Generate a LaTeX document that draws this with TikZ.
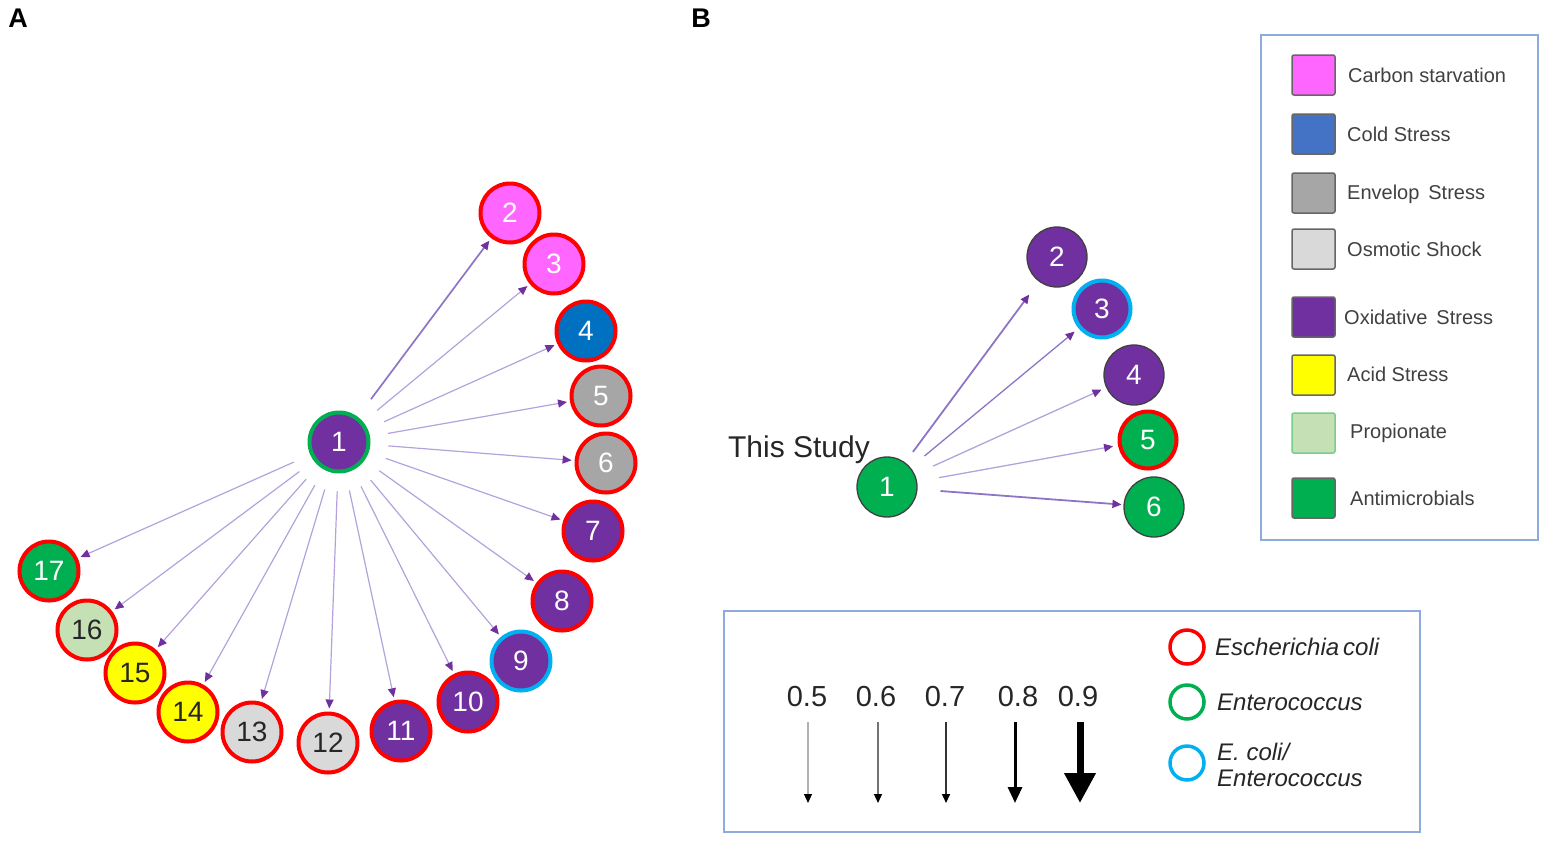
\documentclass[tikz,border=0pt]{standalone}
\usepackage{fontspec}
\setmainfont{Liberation Sans}
\usetikzlibrary{arrows.meta}
\definecolor{cpink}{HTML}{FF66FF}
\definecolor{cred}{HTML}{FF0000}
\definecolor{cblue}{HTML}{0070C0}
\definecolor{cblueL}{HTML}{4472C4}
\definecolor{cgray}{HTML}{A6A6A6}
\definecolor{clgray}{HTML}{D9D9D9}
\definecolor{cpurp}{HTML}{7030A0}
\definecolor{cyell}{HTML}{FFFF00}
\definecolor{clgreen}{HTML}{C5E0B4}
\definecolor{cgreen}{HTML}{00B050}
\definecolor{ccyan}{HTML}{00B0F0}
\definecolor{clav}{HTML}{B3A2DC}
\definecolor{clavD}{HTML}{8E74C6}
\definecolor{cdgray}{HTML}{404040}
\definecolor{cbox}{HTML}{8FAADC}
\definecolor{ctext}{HTML}{262626}
\begin{document}
\begin{tikzpicture}[x=1pt,y=-1pt,
  nodeA/.style={circle, minimum size=59pt, inner sep=0pt, line width=4pt, draw=cred,
     font=\fontsize{28}{28}\selectfont, text=white},
  nodeB/.style={circle, minimum size=60pt, inner sep=0pt, line width=1.3pt, draw=cdgray,
     font=\fontsize{28}{28}\selectfont, text=white},
  edgeA/.style={line width=1.2pt, draw=clav, -{Triangle[length=9pt,width=8pt,color=cpurp]},
     shorten <=18pt, shorten >=3pt},
  edgeB/.style={line width=1.3pt, draw=clavD, -{Triangle[length=9pt,width=8pt,color=cpurp]},
     shorten <=16pt, shorten >=5pt},
  legsq/.style={rounded corners=2pt, line width=1.5pt, draw=cdgray!80, minimum width=43pt, minimum height=40pt, inner sep=0pt},
  legtxt/.style={anchor=west, text=cdgray, font=\fontsize{20}{20}\selectfont, inner sep=0pt},
  wtxt/.style={font=\fontsize{29}{29}\selectfont, text=ctext, inner sep=0pt},
  itxt/.style={anchor=west, font=\fontsize{24}{26}\selectfont\itshape, text=ctext, inner sep=0pt, align=left},
  spcirc/.style={circle, minimum size=34pt, inner sep=0pt, line width=3.5pt},
  panel/.style={font=\fontsize{27}{27}\selectfont\bfseries, inner sep=0pt}
]
\useasboundingbox (0,0) rectangle (1546,841);

% panel labels
\node[panel] (labA) at (18,18) {A};
\node[panel] (labB) at (701,18) {B};

% ---------- Panel A ----------
\node[nodeA, fill=cpurp, draw=cgreen] (a1) at (339,442) {1};
\node[nodeA, fill=cpink] (a2) at (510,213) {2};
\node[nodeA, fill=cpink] (a3) at (554,264) {3};
\node[nodeA, fill=cblue] (a4) at (586,331) {4};
\node[nodeA, fill=cgray] (a5) at (601,396) {5};
\node[nodeA, fill=cgray] (a6) at (606,463) {6};
\node[nodeA, fill=cpurp] (a7) at (593,531) {7};
\node[nodeA, fill=cpurp] (a8) at (562,601) {8};
\node[nodeA, fill=cpurp, draw=ccyan] (a9) at (521,661) {9};
\node[nodeA, fill=cpurp] (a10) at (468,702) {10};
\node[nodeA, fill=cpurp] (a11) at (401,731) {11};
\node[nodeA, fill=clgray, text=ctext] (a12) at (328,743) {12};
\node[nodeA, fill=clgray, text=ctext] (a13) at (252,732) {13};
\node[nodeA, fill=cyell, text=ctext] (a14) at (188,712) {14};
\node[nodeA, fill=cyell, text=ctext] (a15) at (135,673) {15};
\node[nodeA, fill=clgreen, text=ctext] (a16) at (87,630) {16};
\node[nodeA, fill=cgreen] (a17) at (49,571) {17};

\draw[edgeA, draw=clavD, line width=1.7pt, shorten <=22pt] (a1) -- (a2);
\foreach \i in {3,...,17} { \draw[edgeA] (a1) -- (a\i); }

% ---------- Panel B ----------
\node[font=\fontsize{30}{30}\selectfont, text=ctext, inner sep=0pt] (study) at (799,450) {This Study};
\node[nodeB, fill=cgreen] (b1) at (887,487) {1};
\node[nodeB, fill=cpurp] (b2) at (1057,257) {2};
\node[nodeB, fill=cpurp, draw=ccyan, line width=4pt, minimum size=57pt] (b3) at (1102,309) {3};
\node[nodeB, fill=cpurp] (b4) at (1134,375) {4};
\node[nodeB, fill=cgreen, draw=cred, line width=4pt, minimum size=57pt] (b5) at (1148,440) {5};
\node[nodeB, fill=cgreen] (b6) at (1154,507) {6};

\draw[edgeB, line width=1.8pt, shorten <=13pt, shorten >=16pt] (b1) -- (b2);
\draw[edgeB, shorten <=18pt] (b1) -- (b3);
\draw[edgeB, draw=clav, shorten <=20pt] (b1) -- (b4);
\draw[edgeB, draw=clav, shorten <=22pt] (b1) -- (b5);
\draw[edgeB, line width=1.8pt, shorten <=23pt, shorten >=2pt] (b1) -- (b6);

% ---------- Legend 1 ----------
\node[draw=cbox, line width=1.8pt, minimum width=277pt, minimum height=505pt, inner sep=0pt] (leg1) at (1399.5,287.5) {};
\node[legsq, fill=cpink] (s1) at (1313.5,75) {};
\node[legsq, fill=cblueL] (s2) at (1313.5,134) {};
\node[legsq, fill=cgray] (s3) at (1313.5,193) {};
\node[legsq, fill=clgray] (s4) at (1313.5,249) {};
\node[legsq, fill=cpurp] (s5) at (1313.5,317) {};
\node[legsq, fill=cyell] (s6) at (1313.5,375) {};
\node[legsq, fill=clgreen, draw=clgreen!60!cgreen] (s7) at (1313.5,433) {};
\node[legsq, fill=cgreen] (s8) at (1313.5,498) {};
\node[legtxt] (t1) at (1348,75) {Carbon starvation};
\node[legtxt] (t2) at (1347,134) {Cold Stress};
\node[legtxt] (t3) at (1347,194) {Envelop\, Stress};
\node[legtxt] (t4) at (1347,249) {Osmotic Shock};
\node[legtxt] (t5) at (1344,317) {Oxidative\, Stress};
\node[legtxt] (t6) at (1347,374) {Acid Stress};
\node[legtxt] (t7) at (1350,433) {Propionate};
\node[legtxt] (t8) at (1350,498) {Antimicrobials};

% ---------- Legend 2 ----------
\node[draw=cbox, line width=1.8pt, minimum width=696pt, minimum height=221pt, inner sep=0pt] (leg2) at (1072,721.5) {};
\node[wtxt] (v5) at (807,697) {0.5};
\node[wtxt] (v6) at (876,697) {0.6};
\node[wtxt] (v7) at (945,697) {0.7};
\node[wtxt] (v8) at (1018,697) {0.8};
\node[wtxt] (v9) at (1078,697) {0.9};
\coordinate (p5a) at (808,722); \coordinate (p5b) at (808,803);
\coordinate (p6a) at (878,722); \coordinate (p6b) at (878,803);
\coordinate (p7a) at (946,722); \coordinate (p7b) at (946,803);
\coordinate (p8a) at (1015,722); \coordinate (p8b) at (1015,803);
\coordinate (p9a) at (1080,722); \coordinate (p9b) at (1080,803);
\draw[line width=1.1pt, draw=black!30, -{Triangle[length=9pt,width=8pt,color=black]}] (p5a) -- (p5b);
\draw[line width=1.2pt, draw=black!55, -{Triangle[length=9pt,width=8pt,color=black]}] (p6a) -- (p6b);
\draw[line width=1.5pt, draw=black!80, -{Triangle[length=9pt,width=8pt,color=black]}] (p7a) -- (p7b);
\draw[line width=3pt, draw=black, -{Triangle[length=16pt,width=14pt]}] (p8a) -- (p8b);
\draw[line width=7pt, draw=black, -{Triangle[length=30pt,width=30pt]}] (p9a) -- (p9b);

\node[spcirc, draw=cred] (c1) at (1187,647) {};
\node[spcirc, draw=cgreen] (c2) at (1187,702) {};
\node[spcirc, draw=ccyan] (c3) at (1187,763) {};
\node[itxt] (e1) at (1215,647) {Escherichia\,coli};
\node[itxt] (e2) at (1217,702) {Enterococcus};
\node[itxt] (e3) at (1217,765) {E. coli/\\Enterococcus};
\end{tikzpicture}
\end{document}
